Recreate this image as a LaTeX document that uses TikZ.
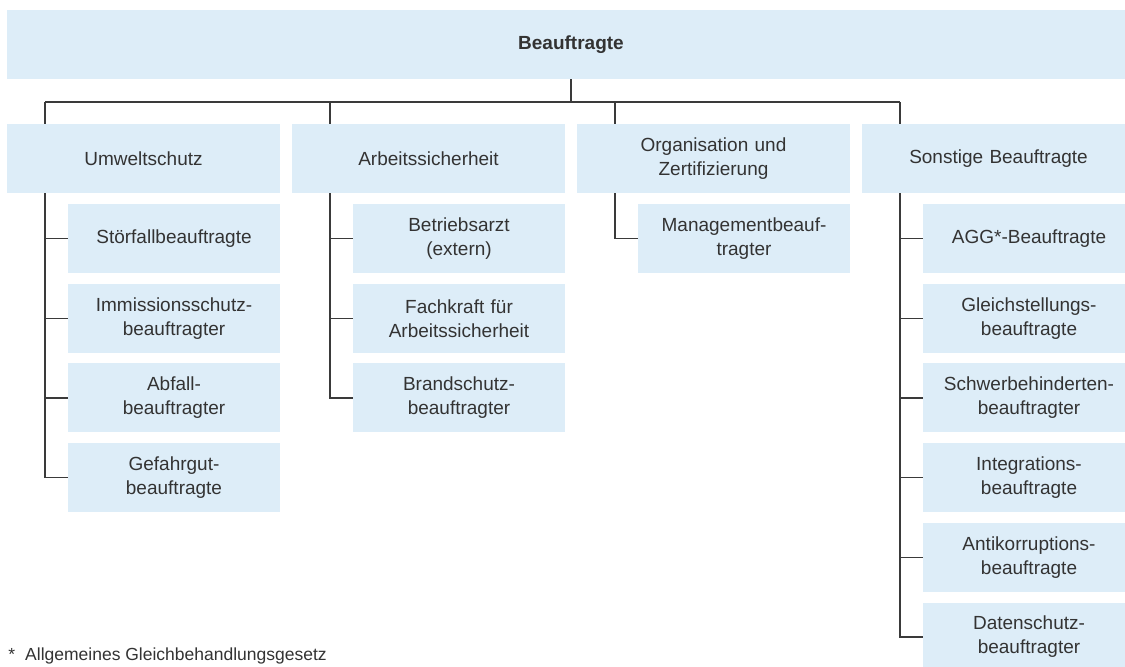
\documentclass[tikz,border=0pt]{standalone}
\usepackage{fontspec}
\setmainfont{Liberation Sans}
\usetikzlibrary{positioning, calc}
\definecolor{boxblue}{RGB}{221,237,248}
\definecolor{textgray}{RGB}{51,51,51}
\definecolor{linegray}{RGB}{58,58,58}

\begin{document}
\begin{tikzpicture}[x=0.5pt, y=-0.5pt,
  kasten/.style={fill=boxblue, text=textgray, align=center, inner sep=0pt,
    minimum height=34.5pt, font=\fontsize{9.5}{12}\selectfont},
  bereich/.style={kasten, minimum width=136.5pt, text width=130pt},
  beauftr/.style={kasten, minimum width=106pt, text width=100pt},
  linie/.style={draw=linegray, line width=0.65pt}]

\useasboundingbox (0,0) rectangle (1125,666);

% Top box
\node[kasten, minimum width=564pt, text width=300pt,
  font=\fontsize{9.5}{12}\selectfont\bfseries] (top) at (571,44.5) {Beauftragte};

% Areas
\node[bereich] (umwelt) at (143.5,158.5) {Umweltschutz};
\node[bereich] (arbeit) at (428.5,158.5) {Arbeitssicherheit};
\node[bereich] (orga)   at (713.5,158.5) {Organisation und\\Zertifizierung};
\node[bereich] (sonst)  at (998.5,158.5) {Sonstige Beauftragte};

% Stems of the columns
\coordinate (bus) at (0,102);
\coordinate (su) at (45,0);
\coordinate (sa) at (330,0);
\coordinate (so) at (615,0);
\coordinate (ss) at (900,0);

% Officers
\foreach \t [count=\i] in {{St\"orfallbeauftragte}, {Immissionsschutz-\\beauftragter},
    {Abfall-\\beauftragter}, {Gefahrgut-\\beauftragte}} {
  \node[beauftr] (u\i) at (174,{238.5+79.7*(\i-1)}) {\t};
}
\foreach \t [count=\i] in {{Betriebsarzt\\(extern)}, {Fachkraft f\"ur\\Arbeitssicherheit},
    {Brandschutz-\\beauftragter}} {
  \node[beauftr] (a\i) at (459,{238.5+79.7*(\i-1)}) {\t};
}
\node[beauftr] (o1) at (744,238.5) {Managementbeauf-\\tragter};
\foreach \t [count=\i] in {{AGG*-Beauftragte}, {Gleichstellungs-\\beauftragte},
    {Schwerbehinderten-\\beauftragter}, {Integrations-\\beauftragte},
    {Antikorruptions-\\beauftragte}, {Datenschutz-\\beauftragter}} {
  \node[beauftr] (s\i) at (1029,{238.5+79.7*(\i-1)}) {\t};
}

% Connectors
\draw[linie] (top.south) -- (top.south |- bus);
\draw[linie] (su |- bus) -- (ss |- bus);
\draw[linie] (su |- bus) -- (su |- umwelt.north);
\draw[linie] (sa |- bus) -- (sa |- arbeit.north);
\draw[linie] (so |- bus) -- (so |- orga.north);
\draw[linie] (ss |- bus) -- (ss |- sonst.north);

\draw[linie] (su |- umwelt.south) |- (u4.west);
\foreach \i in {1,2,3}
  \draw[linie] (su |- u\i.west) -- (u\i.west);
\draw[linie] (sa |- arbeit.south) |- (a3.west);
\foreach \i in {1,2}
  \draw[linie] (sa |- a\i.west) -- (a\i.west);
\draw[linie] (so |- orga.south) |- (o1.west);
\draw[linie] (ss |- sonst.south) |- (s6.west);
\foreach \i in {1,...,5}
  \draw[linie] (ss |- s\i.west) -- (s\i.west);

% Footnote
\node[anchor=base west, inner sep=0pt, text=textgray,
  font=\fontsize{8.75}{10}\selectfont] (fussnote) at (8,660)
  {*\hspace{5pt}Allgemeines Gleichbehandlungsgesetz};
\end{tikzpicture}
\end{document}
